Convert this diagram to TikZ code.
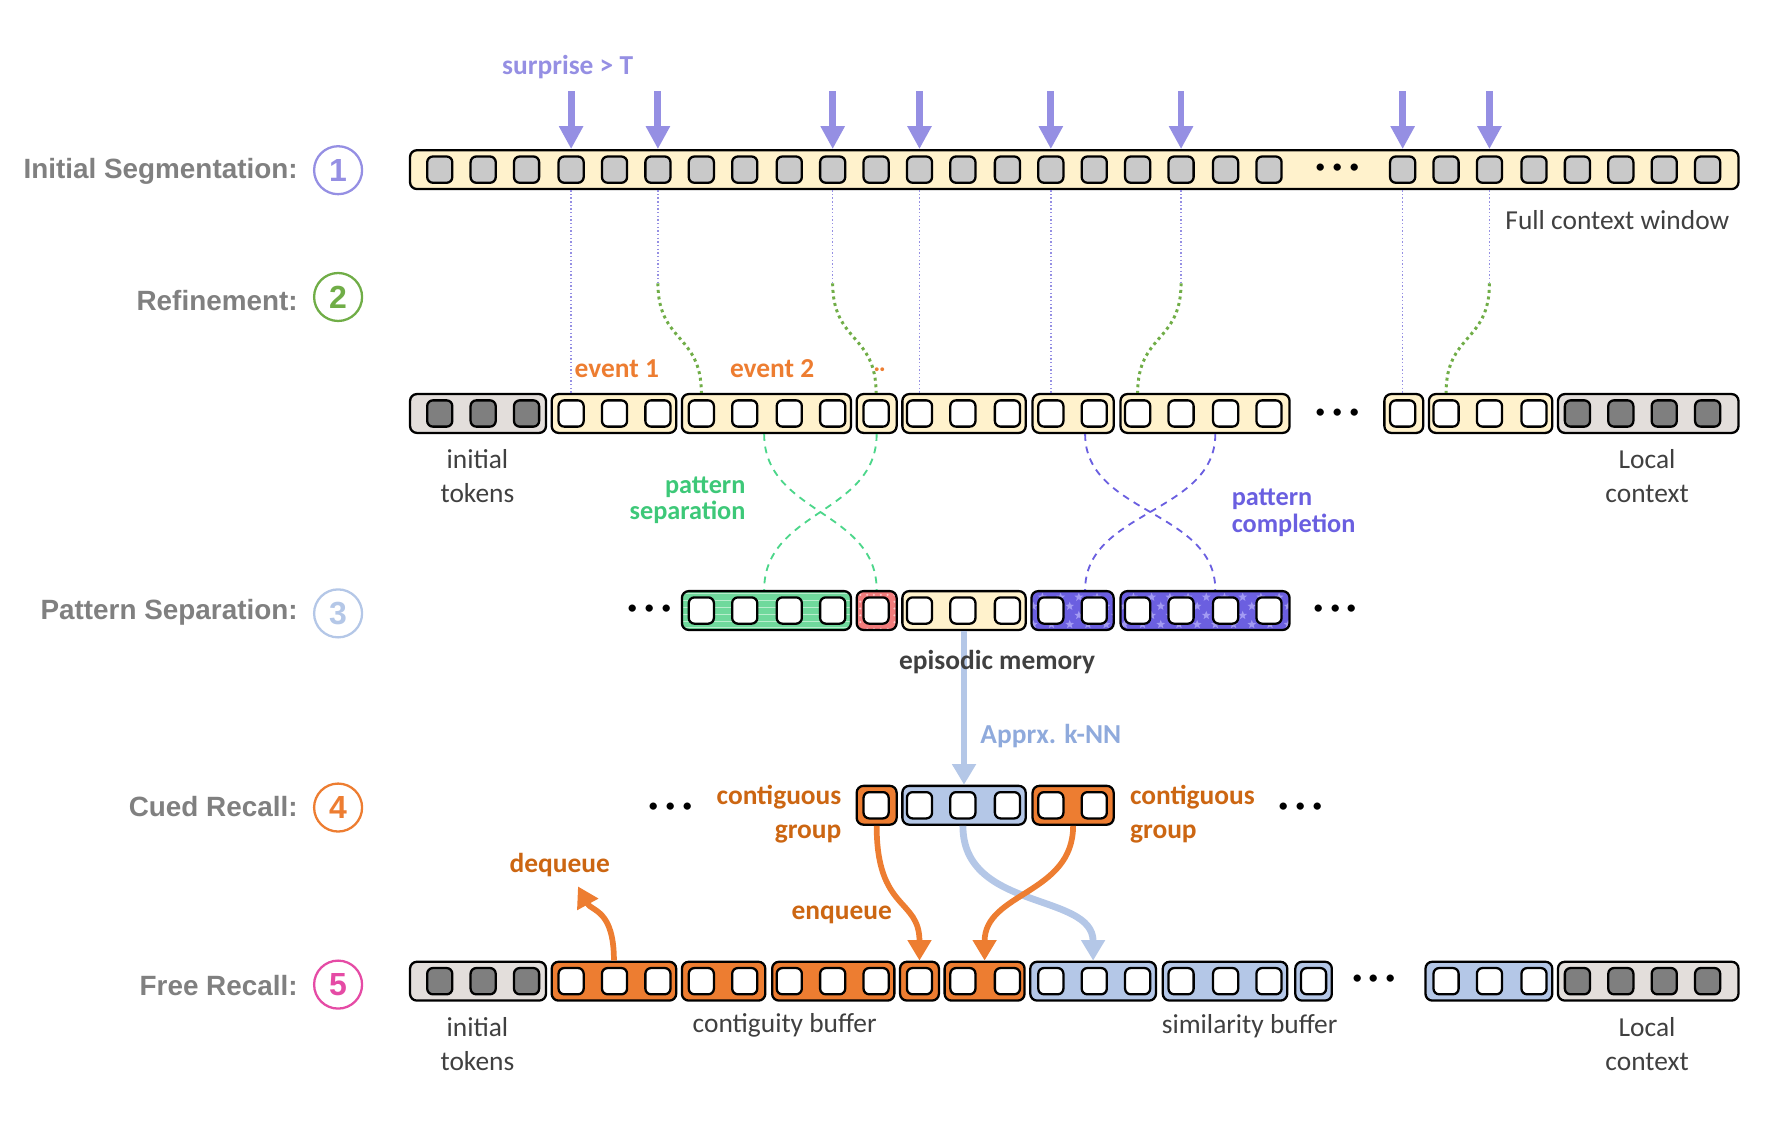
\documentclass[tikz,border=0pt]{standalone}
\usepackage{fontspec}
\setmainfont{Carlito}
\newfontfamily\arialf{Liberation Sans}
\usetikzlibrary{arrows.meta,patterns,patterns.meta,calc}
\definecolor{lav}{HTML}{958FE3}
\definecolor{boxyellow}{HTML}{FFF2CC}
\definecolor{boxgray}{HTML}{E3DEDB}
\definecolor{cellgray}{HTML}{C9C9C9}
\definecolor{celldark}{HTML}{7F7F7F}
\definecolor{orng}{HTML}{ED7D31}
\definecolor{orngtext}{HTML}{CC6612}
\definecolor{lblue}{HTML}{B4C7E7}
\definecolor{bluetext}{HTML}{8FAADC}
\definecolor{pgreen}{HTML}{6FD99C}
\definecolor{pgreenlt}{HTML}{B8EECD}
\definecolor{gdashc}{HTML}{4CD68A}
\definecolor{gtext}{HTML}{3DC878}
\definecolor{pred}{HTML}{F27C7C}
\definecolor{predlt}{HTML}{FCC8C8}
\definecolor{ppurp}{HTML}{6B5FE0}
\definecolor{ppurplt}{HTML}{A39BF3}
\definecolor{ptext}{HTML}{6A5FE0}
\definecolor{refgreen}{HTML}{70AD47}
\definecolor{labgray}{HTML}{808080}
\definecolor{txtgray}{HTML}{404040}
\definecolor{pinkc}{HTML}{E54BA5}
\tikzdeclarepattern{
  name=bigstars,
  type=uncolored,
  bottom left={(-0.1pt,-0.1pt)},
  top right={(8.1pt,8.1pt)},
  tile size={(8pt,8pt)},
  code={
    \foreach \sx/\sy in {2/2,6/6}{
      \fill[shift={(\sx pt,\sy pt)}] (90:2pt) -- (126:0.85pt) -- (162:2pt) -- (198:0.85pt) -- (234:2pt) -- (270:0.85pt) -- (306:2pt) -- (342:0.85pt) -- (18:2pt) -- (54:0.85pt) -- cycle;
    }
  }
}
\newcommand\mkseg[5]{%
  \pgfmathsetmacro\segw{(#3-#2)*0.5}%
  \node[segst,#5,minimum width=\segw bp] (#1) at ({(#2+#3)/2},#4) {};}
\newcommand\mkcells[4]{%
  \foreach \cx [count=\ci] in {#4} {\node[#3] (#1\ci) at (\cx,#2) {};}}
\begin{document}
\begin{tikzpicture}[x=0.5bp,y=-0.5bp,
  segst/.style={draw=black,line width=1bp,rounded corners=3bp,minimum height=17bp,inner sep=0pt},
  cellst/.style={draw=black,line width=1bp,rounded corners=2.5bp,minimum width=11bp,minimum height=11.5bp,inner sep=0pt,fill=white},
  gcell/.style={cellst,fill=cellgray},
  dcell/.style={cellst,fill=celldark},
  ylw/.style={fill=boxyellow},
  gry/.style={fill=boxgray},
  org/.style={fill=orng},
  blu/.style={fill=lblue},
  grn/.style={preaction={fill=pgreen},pattern=horizontal lines,pattern color=pgreenlt},
  rdd/.style={preaction={fill=pred},pattern=dots,pattern color=predlt},
  prp/.style={preaction={fill=ppurp},pattern=bigstars,pattern color=ppurplt},
  surp/.style={draw=lav,line width=3bp,-{Triangle[width=10bp,length=10bp]}},
  lavdot/.style={draw=lav,line width=0.6bp,dash pattern=on 0.6bp off 1bp},
  grndot/.style={draw=refgreen,line width=1.3bp,dash pattern=on 1.3bp off 1.6bp},
  gdash/.style={draw=gdashc,line width=0.8bp,dash pattern=on 3bp off 2.5bp},
  pdash/.style={draw=ptext,line width=0.8bp,dash pattern=on 3bp off 2.5bp},
  oarr/.style={draw=orng,line width=2.5bp,-{Triangle[width=10bp,length=9bp]}},
  barr/.style={draw=lblue,line width=3bp,-{Triangle[width=10bp,length=9bp]}},
  lbl/.style={font=\arialf\bfseries\fontsize{12.2bp}{14bp}\selectfont,text=labgray,anchor=east,inner sep=0pt},
  num/.style={circle,line width=1bp,minimum size=21bp,inner sep=0pt,font=\arialf\bfseries\fontsize{14bp}{14bp}\selectfont},
  ctxt/.style={font=\fontsize{12bp}{15bp}\selectfont,text=txtgray,align=center,inner sep=0pt},
  btxt/.style={font=\bfseries\fontsize{12bp}{15bp}\selectfont,inner sep=0pt},
  dts/.style={font=\bfseries\fontsize{17bp}{17bp}\selectfont,inner sep=0pt}
]
\useasboundingbox (0,0) rectangle (1568,1005);

% ---------- left labels ----------
\node[lbl] (l1) at (261,150) {Initial Segmentation:};
\node[lbl] (l2) at (261,263) {Refinement:};
\node[lbl] (l3) at (261,536) {Pattern Separation:};
\node[lbl] (l4) at (261,706) {Cued Recall:};
\node[lbl] (l5) at (261,863) {Free Recall:};
\node[num,draw=lav,text=lav] (n1) at (296,149) {1};
\node[num,draw=refgreen,text=refgreen] (n2) at (296,260) {2};
\node[num,draw=lblue,text=lblue] (n3) at (296,537) {3};
\node[num,draw=orng,text=orng] (n4) at (296,707) {4};
\node[num,draw=pinkc,text=pinkc] (n5) at (296,862) {5};

% ---------- row 1 ----------
\mkseg{bar1}{359}{1522}{148.5}{ylw}
\mkcells{a}{148.5}{gcell}{385,423,461,500,538,576,614,652,691,729,767,805,843,882,920,958,996,1034,1073,1111,1228,1266,1304,1343,1381,1419,1457,1495}
\node[dts] (dd1) at (1171,150) {·\,·\,·};
\node[btxt,text=lav] (surpt) at (497,59) {surprise > T};
\foreach \k in {4,6,10,12,15,18,21,23}{
  \coordinate (sp\k) at (a\k |- 0,80);
  \draw[surp] (sp\k) -- (a\k |- bar1.north);
}
\node[ctxt] (fcw) at (1416,193) {Full context window};

% ---------- row 2 ----------
\mkseg{b0}{359}{478}{362}{gry}
\mkcells{b0c}{362}{dcell}{385,423,461}
\mkseg{b1}{483}{592}{362}{ylw}
\mkcells{b1c}{362}{cellst}{500,538,576}
\mkseg{b2}{597}{745}{362}{ylw}
\mkcells{b2c}{362}{cellst}{614,652,691,729}
\mkseg{b3}{750}{785}{362}{ylw}
\mkcells{b3c}{362}{cellst}{767}
\mkseg{b4}{790}{898}{362}{ylw}
\mkcells{b4c}{362}{cellst}{805,843,882}
\mkseg{b5}{904}{975}{362}{ylw}
\mkcells{b5c}{362}{cellst}{920,958}
\mkseg{b6}{981}{1129}{362}{ylw}
\mkcells{b6c}{362}{cellst}{996,1034,1073,1111}
\node[dts] (dd2) at (1171,364) {·\,·\,·};
\mkseg{b7}{1212}{1246}{362}{ylw}
\mkcells{b7c}{362}{cellst}{1228}
\mkseg{b8}{1251}{1359}{362}{ylw}
\mkcells{b8c}{362}{cellst}{1266,1304,1343}
\mkseg{b9}{1364}{1522}{362}{gry}
\mkcells{b9c}{362}{dcell}{1381,1419,1457,1495}

\node[btxt,text=orng] (ev1) at (540,323) {event 1};
\node[btxt,text=orng] (ev2) at (676,323) {event 2};
\node[btxt,text=orng,font=\bfseries\fontsize{9bp}{9bp}\selectfont] (ev3) at (770,325) {··};
\node[ctxt] (it1) at (418,417) {initial\\tokens};
\node[ctxt] (lc1) at (1442,417) {Local\\context};

% refinement connectors
\foreach \k/\b in {4/b1,12/b4,15/b5,21/b7}
  \draw[lavdot] (a\k |- bar1.south) -- (a\k |- \b.north);
\foreach \k/\t in {6/b2c1,10/b3c1,18/b6c1,23/b8c1}{
  \coordinate (kk\k) at (a\k |- 0,248);
  \draw[lavdot] (a\k |- bar1.south) -- (kk\k);
  \draw[grndot] (kk\k) .. controls +(0,52) and +(0,-52) .. (\t |- b2.north);
}

% ---------- row 3 ----------
\node[dts] (dd3) at (569,536) {·\,·\,·};
\mkseg{c1}{597}{745}{534.5}{grn}
\mkcells{c1c}{534.5}{cellst}{614,652,691,729}
\mkseg{c2}{750}{785}{534.5}{rdd}
\mkcells{c2c}{534.5}{cellst}{767}
\mkseg{c3}{790}{898}{534.5}{ylw}
\mkcells{c3c}{534.5}{cellst}{805,843,882}
\mkseg{c4}{903}{975}{534.5}{prp}
\mkcells{c4c}{534.5}{cellst}{920,958}
\mkseg{c5}{981}{1129}{534.5}{prp}
\mkcells{c5c}{534.5}{cellst}{996,1034,1073,1111}
\node[dts] (dd4) at (1169,536) {·\,·\,·};

% crossing curves
\draw[gdash] (669,0 |- b2.south) .. controls +(0,70) and +(0,-70) .. (c2.north);
\draw[gdash] (b3.south) .. controls +(0,70) and +(0,-70) .. (669,0 |- c1.north);
\draw[pdash] (950,0 |- b5.south) .. controls +(0,70) and +(0,-70) .. (1064,0 |- c5.north);
\draw[pdash] (1064,0 |- b6.south) .. controls +(0,70) and +(0,-70) .. (950,0 |- c4.north);
\node[btxt,text=gtext,align=right,anchor=east,font=\bfseries\fontsize{11.5bp}{11.5bp}\selectfont] (psep) at (653,438) {pattern\\separation};
\node[btxt,text=ptext,align=left,anchor=west,font=\bfseries\fontsize{11.5bp}{11.5bp}\selectfont] (pcom) at (1078,449) {pattern\\completion};

% ---------- row 4 ----------
\node[dts] (dd5) at (587,709) {·\,·\,·};
\mkseg{d1}{750}{785}{705}{org}
\mkcells{d1c}{705}{cellst}{767}
\mkseg{d2}{790}{898}{705}{blu}
\mkcells{d2c}{705}{cellst}{805,843,882}
\mkseg{d3}{904}{975}{705}{org}
\mkcells{d3c}{705}{cellst}{920,958}
\node[dts] (dd6) at (1139,709) {·\,·\,·};
\node[btxt,text=orngtext,align=right,anchor=east] (cg1) at (737,713) {contiguous\\group};
\node[btxt,text=orngtext,align=left,anchor=west] (cg2) at (989,713) {contiguous\\group};

% ---------- row 3 -> 4 ----------
\draw[barr] (c3.south) -- (d2.north);
\node[btxt,text=txtgray] (epi) at (873,580) {episodic memory};
\node[btxt,text=bluetext,anchor=west] (knn) at (858,644) {Apprx. k-NN};

% ---------- row 5 ----------
\mkseg{e0}{359}{478}{859}{gry}
\mkcells{e0c}{859}{dcell}{385,423,461}
\mkseg{e1}{483}{592}{859}{org}
\mkcells{e1c}{859}{cellst}{500,538,576}
\mkseg{e2}{597}{670}{859}{org}
\mkcells{e2c}{859}{cellst}{614,652}
\mkseg{e3}{676}{783}{859}{org}
\mkcells{e3c}{859}{cellst}{691,729,767}
\mkseg{e4}{788}{822}{859}{org}
\mkcells{e4c}{859}{cellst}{805}
\mkseg{e5}{827}{897}{859}{org}
\mkcells{e5c}{859}{cellst}{843,882}
\mkseg{e6}{902}{1012}{859}{blu}
\mkcells{e6c}{859}{cellst}{920,958,996}
\mkseg{e7}{1018}{1127}{859}{blu}
\mkcells{e7c}{859}{cellst}{1034,1073,1111}
\mkseg{e8}{1134}{1166}{859}{blu}
\mkcells{e8c}{859}{cellst}{1150}
\node[dts] (dd7) at (1203,860) {·\,·\,·};
\mkseg{e9}{1248}{1359}{859}{blu}
\mkcells{e9c}{859}{cellst}{1266,1304,1343}
\mkseg{e10}{1364}{1522}{859}{gry}
\mkcells{e10c}{859}{dcell}{1381,1419,1457,1495}

% ---------- recall arrows ----------
\draw[barr] (d2c2 |- d2.south) .. controls +(0,75) and +(0,-60) .. (e6.north);
\draw[oarr] (d1.south) .. controls +(0,75) and +(0,-55) .. (e4.north);
\draw[oarr] (d3.south) .. controls +(0,60) and +(0,-60) .. (e5.north);
\coordinate (dq) at (506,776);
\draw[oarr] (e1.north) .. controls +(0,-45) and +(12,22) .. (dq);
\node[btxt,text=orngtext] (deq) at (490,757) {dequeue};
\node[btxt,text=orngtext] (enq) at (737,801) {enqueue};

\node[ctxt] (it2) at (418,914) {initial\\tokens};
\node[ctxt] (cb) at (687,898) {contiguity buffer};
\node[ctxt] (sb) at (1094,898) {similarity buffer};
\node[ctxt] (lc2) at (1442,914) {Local\\context};
\end{tikzpicture}
\end{document}
